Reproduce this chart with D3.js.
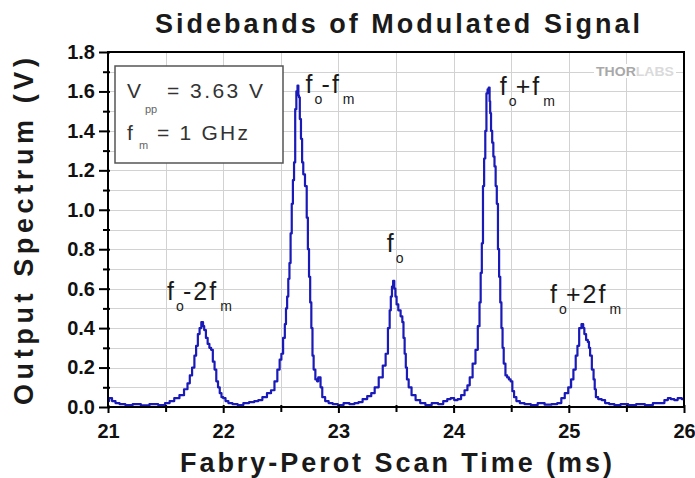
<!DOCTYPE html>
<meta charset="utf-8">
<style>
body { margin: 0; background: white; }
svg { display: block; font-family: "Liberation Sans", Arial, sans-serif; }
.grid line { stroke: #d2d2d2; stroke-width: 1; shape-rendering: crispEdges; }
.axis path { display: none; }
.axis line { stroke: #000; stroke-width: 2; }
.axis text { font-size: 20px; font-weight: bold; fill: #111; }
.trace { fill: none; stroke: #1a1ab8; stroke-width: 2.2; stroke-linejoin: round; }
.peak { font-size: 25px; fill: #1a1a1a; }
.sub { font-size: 14px; fill: #1a1a1a; }
.legend { font-size: 21px; fill: #333; }
</style>
<body>
<svg width="695" height="478"></svg>
<script src="https://d3js.org/d3.v7.min.js"></script>
<script>

// scan time (ms) and output spectrum (V)
var times = [21.00,21.02,21.05,21.08,21.12,21.18,21.25,21.32,21.40,21.47,21.52,21.55,21.60,21.64,21.68,21.70,21.72,21.74,21.76,21.77,21.79,21.80,21.82,21.83,21.84,21.86,21.87,21.89,21.90,21.92,21.93,21.95,21.96,21.98,21.99,22.01,22.03,22.06,22.10,22.15,22.20,22.25,22.29,22.32,22.36,22.40,22.43,22.46,22.48,22.50,22.51,22.53,22.54,22.55,22.56,22.57,22.58,22.59,22.60,22.61,22.62,22.63,22.64,22.65,22.655,22.66,22.67,22.68,22.69,22.70,22.72,22.73,22.74,22.75,22.76,22.77,22.78,22.79,22.81,22.82,22.83,22.84,22.85,22.87,22.90,22.93,22.97,23.02,23.07,23.12,23.16,23.19,23.23,23.27,23.30,23.33,23.37,23.40,23.42,23.44,23.45,23.46,23.47,23.48,23.49,23.50,23.51,23.53,23.55,23.56,23.57,23.58,23.59,23.60,23.62,23.65,23.69,23.73,23.78,23.84,23.89,23.93,23.96,23.99,24.02,24.05,24.08,24.11,24.13,24.15,24.18,24.20,24.22,24.23,24.24,24.25,24.26,24.27,24.28,24.29,24.30,24.31,24.315,24.32,24.33,24.34,24.35,24.36,24.37,24.38,24.39,24.40,24.41,24.42,24.43,24.44,24.46,24.47,24.49,24.50,24.52,24.53,24.56,24.59,24.64,24.70,24.76,24.82,24.88,24.92,24.95,24.98,25.01,25.03,25.05,25.07,25.08,25.10,25.12,25.13,25.14,25.16,25.17,25.18,25.19,25.21,25.22,25.23,25.24,25.27,25.30,25.33,25.37,25.42,25.48,25.55,25.62,25.70,25.76,25.81,25.85,25.87,25.90,25.93,25.96,26.00];
var volts = [0.03,0.045,0.03,0.02,0.015,0.01,0.015,0.008,0.015,0.01,0.02,0.03,0.045,0.06,0.09,0.12,0.16,0.20,0.26,0.31,0.37,0.40,0.43,0.41,0.39,0.35,0.32,0.30,0.29,0.23,0.19,0.13,0.10,0.07,0.05,0.045,0.03,0.02,0.015,0.01,0.02,0.025,0.03,0.035,0.05,0.07,0.085,0.13,0.19,0.24,0.27,0.35,0.42,0.50,0.56,0.65,0.73,0.88,1.03,1.15,1.24,1.51,1.60,1.63,1.58,1.57,1.46,1.36,1.24,1.18,1.12,0.96,0.80,0.66,0.53,0.40,0.26,0.19,0.14,0.13,0.15,0.15,0.10,0.05,0.03,0.02,0.015,0.01,0.02,0.015,0.02,0.025,0.04,0.055,0.07,0.10,0.15,0.21,0.27,0.40,0.49,0.56,0.61,0.64,0.60,0.56,0.52,0.49,0.46,0.43,0.35,0.27,0.20,0.14,0.10,0.06,0.035,0.02,0.01,0.02,0.015,0.03,0.04,0.045,0.035,0.04,0.06,0.085,0.11,0.15,0.22,0.29,0.41,0.53,0.68,0.83,1.12,1.26,1.40,1.59,1.61,1.62,1.55,1.49,1.40,1.34,1.27,1.22,1.12,1.03,0.80,0.66,0.53,0.40,0.30,0.22,0.16,0.15,0.14,0.13,0.08,0.05,0.03,0.02,0.015,0.01,0.02,0.012,0.015,0.02,0.045,0.07,0.10,0.14,0.19,0.26,0.31,0.40,0.42,0.40,0.37,0.34,0.33,0.30,0.26,0.19,0.14,0.09,0.05,0.04,0.035,0.02,0.015,0.01,0.015,0.01,0.015,0.01,0.02,0.02,0.035,0.045,0.04,0.035,0.045,0.04];

var xTicks = [21, 22, 23, 24, 25, 26];
var yTicks = [0.0, 0.2, 0.4, 0.6, 0.8, 1.0, 1.2, 1.4, 1.6, 1.8];

// peak labels: main letter, subscript, middle part, subscript, anchor (ms, V)
var peakMain = ["f", "f", "f", "f", "f"];
var peakSub1 = ["o", "o", "o", "o", "o"];
var peakMid  = ["-2f", "-f", "", "+f", "+2f"];
var peakSub2 = ["m", "m", "", "m", "m"];
var peakT = [21.512, 22.715, 23.42, 24.40, 24.837];
var peakV = [0.543, 1.592, 0.786, 1.583, 0.527];

var title = "Sidebands of Modulated Signal";
var xLabel = "Fabry-Perot Scan Time (ms)";
var yLabel = "Output Spectrum (V)";

var svg = d3.select("svg");
var pL = 108, pR = 684, pT = 52, pB = 407;

var x = d3.scaleLinear().domain([21, 26]).range([pL, pR]);
var y = d3.scaleLinear().domain([0, 1.8]).range([pB, pT]);

// grid
var grid = svg.append("g").attr("class", "grid");
grid.selectAll(".gx").data(d3.range(21.5, 26, 0.5)).enter().append("line")
    .attr("x1", function(d) { return Math.round(x(d)) + 0.5; })
    .attr("x2", function(d) { return Math.round(x(d)) + 0.5; })
    .attr("y1", pT).attr("y2", pB);
grid.selectAll(".gy").data(d3.range(1, 18)).enter().append("line")
    .attr("y1", function(d) { return Math.round(y(d / 10)) + 0.5; })
    .attr("y2", function(d) { return Math.round(y(d / 10)) + 0.5; })
    .attr("x1", pL).attr("x2", pR);

// thorlabs mark
var logo = svg.append("g");
logo.append("rect").attr("x", 594).attr("y", 64).attr("width", 82).attr("height", 14).attr("fill", "white");
var lt = logo.append("text").attr("x", 596).attr("y", 76)
    .attr("textLength", 78).attr("lengthAdjust", "spacingAndGlyphs")
    .style("font-size", "12px").style("font-weight", "bold");
lt.append("tspan").attr("fill", "#a8a8a8").text("THOR");
lt.append("tspan").attr("fill", "#dadada").text("LABS");

// trace
var pts = times.map(function(t, i) { return [t, volts[i]]; });
svg.append("path")
    .datum(pts)
    .attr("class", "trace")
    .attr("d", d3.line().curve(d3.curveStep)
      .x(function(d) { return x(d[0]); }).y(function(d) { return y(d[1]); }));

// frame
svg.append("rect")
    .attr("x", pL).attr("y", pT)
    .attr("width", pR - pL).attr("height", pB - pT)
    .attr("fill", "none").attr("stroke", "#000").attr("stroke-width", 2);

// y axis, major and minor ticks
var yAx = svg.append("g").attr("class", "axis")
    .attr("transform", "translate(" + pL + ",0)")
    .call(d3.axisLeft(y).tickValues(yTicks).tickSize(9).tickPadding(4).tickFormat(d3.format(".1f")));
yAx.selectAll("line").attr("x1", 2);
var yMin = svg.append("g").attr("class", "axis")
    .attr("transform", "translate(" + pL + ",0)")
    .call(d3.axisLeft(y).tickValues(d3.range(1, 18, 2).map(function(d) { return d / 10; })).tickSize(5).tickFormat(""));
yMin.selectAll("line").attr("x1", 2);

// x axis
var xAx = svg.append("g").attr("class", "axis")
    .attr("transform", "translate(0," + pB + ")")
    .call(d3.axisBottom(x).tickValues(xTicks).tickSize(6).tickFormat(d3.format("d")));
xAx.selectAll("line").attr("y1", -2);
xAx.selectAll("text").attr("y", 17).attr("dy", "0.71em");
var xMin = svg.append("g").attr("class", "axis")
    .attr("transform", "translate(0," + pB + ")")
    .call(d3.axisBottom(x).tickValues([21.5, 22.5, 23.5, 24.5, 25.5]).tickSize(5).tickFormat(""));
xMin.selectAll("line").attr("y1", -2);

// titles
svg.append("text").attr("x", 155).attr("y", 33)
    .attr("textLength", 485).attr("lengthAdjust", "spacing")
    .style("font-size", "27px").style("font-weight", "bold").attr("fill", "#1a1a1a")
    .text(title);
svg.append("text").attr("x", 180).attr("y", 472)
    .attr("textLength", 432).attr("lengthAdjust", "spacing")
    .style("font-size", "27px").style("font-weight", "bold").attr("fill", "#1a1a1a")
    .text(xLabel);
svg.append("text").attr("transform", "translate(33,405) rotate(-90)")
    .attr("textLength", 347).attr("lengthAdjust", "spacing")
    .style("font-size", "27px").style("font-weight", "bold").attr("fill", "#1a1a1a")
    .text(yLabel);

// legend box
var lg = svg.append("g");
lg.append("rect").attr("x", 115).attr("y", 66).attr("width", 168).attr("height", 97)
    .attr("fill", "white").attr("stroke", "#555").attr("stroke-width", 1.5);
lg.append("text").attr("class", "legend").attr("x", 127).attr("y", 98).text("V");
lg.append("text").attr("class", "legend").attr("x", 145).attr("y", 113).style("font-size", "11px").style("fill", "#666").text("pp");
lg.append("text").attr("class", "legend").attr("x", 167).attr("y", 98)
    .attr("textLength", 96).attr("lengthAdjust", "spacing").text("= 3.63 V");
lg.append("text").attr("class", "legend").attr("x", 127).attr("y", 140).text("f");
lg.append("text").attr("class", "legend").attr("x", 139).attr("y", 149).style("font-size", "11px").style("fill", "#666").text("m");
lg.append("text").attr("class", "legend").attr("x", 157).attr("y", 140)
    .attr("textLength", 91).attr("lengthAdjust", "spacing").text("= 1 GHz");

// peak labels
peakT.forEach(function(t, i) {
  var px = x(t), py = y(peakV[i]);
  var g = svg.append("g").attr("transform", "translate(" + px + "," + py + ")");
  g.append("text").attr("class", "peak").text(peakMain[i]);
  g.append("text").attr("class", "sub").attr("x", 9).attr("y", 11).text(peakSub1[i]);
  if (peakMid[i]) {
    var mid = g.append("text").attr("class", "peak").attr("x", 16)
        .style("letter-spacing", "2px").text(peakMid[i]);
    var w = mid.node().getComputedTextLength();
    g.append("text").attr("class", "sub").attr("x", 16 + w + 2).attr("y", 11).text(peakSub2[i]);
  }
});

</script>
</body>
